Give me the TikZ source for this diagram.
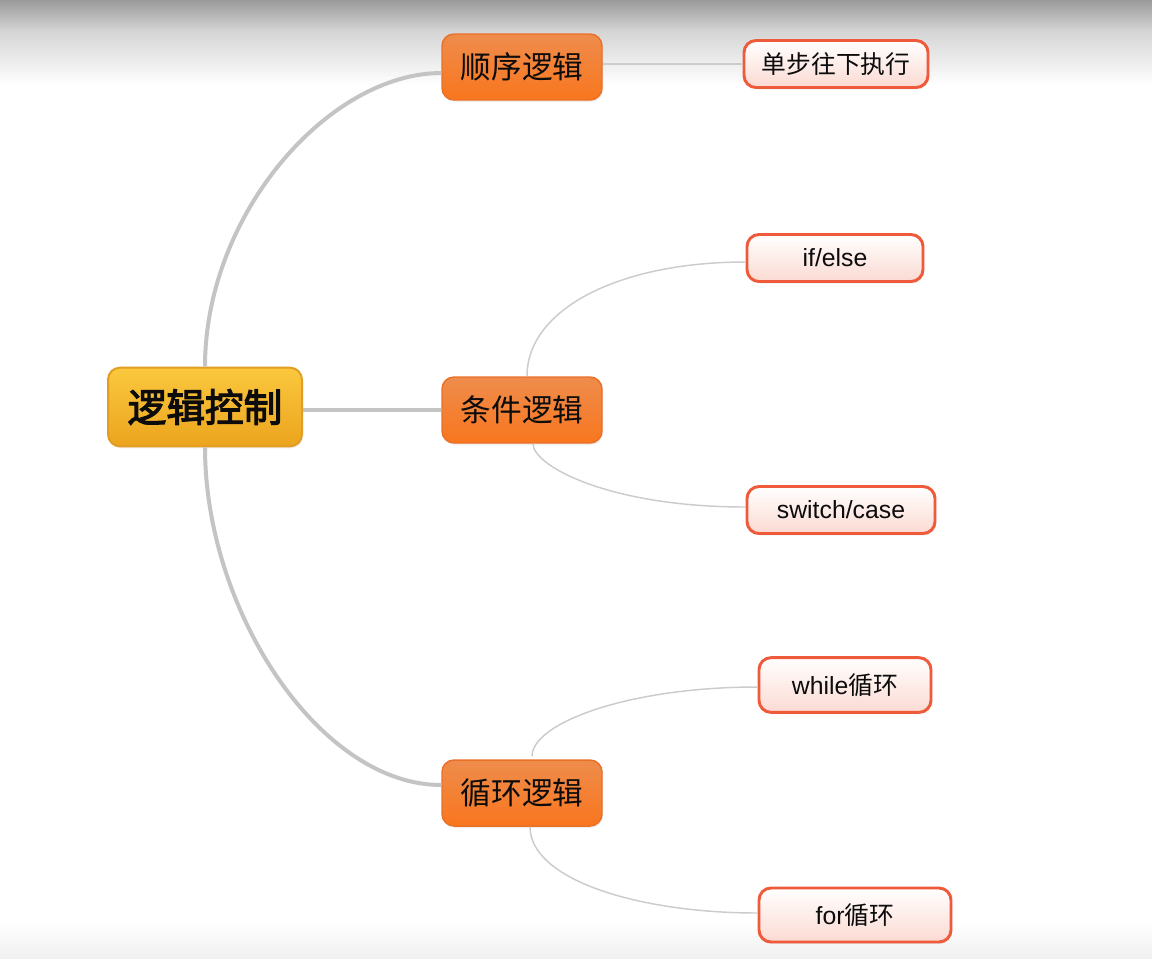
\documentclass[tikz,border=0pt]{standalone}
\usepackage{fontspec}
\setmainfont{Liberation Sans}
\newfontfamily\cjk{Noto Sans CJK SC}
\newfontfamily\cjkheavy[FakeBold=3]{Noto Sans CJK SC}
\usetikzlibrary{calc,shadows}

\definecolor{rootTop}{RGB}{250,200,62}
\definecolor{rootBot}{RGB}{236,164,30}
\definecolor{rootLine}{RGB}{226,158,34}
\definecolor{branchTop}{RGB}{238,140,76}
\definecolor{branchBot}{RGB}{249,118,30}
\definecolor{branchLine}{RGB}{234,112,40}
\definecolor{leafBot}{RGB}{251,218,210}
\definecolor{leafLine}{RGB}{238,90,58}
\definecolor{trunkGray}{RGB}{196,196,196}
\definecolor{twigGray}{RGB}{204,204,204}
\definecolor{inkText}{RGB}{12,12,12}
\definecolor{topGray}{RGB}{154,154,154}
\definecolor{midGray}{RGB}{212,212,212}
\definecolor{footGray}{RGB}{240,240,240}

\begin{document}
\begin{tikzpicture}[x=0.75pt,y=-0.75pt,
  softshadow/.style={drop shadow={opacity=0.12,shadow xshift=0.8pt,shadow yshift=-1.5pt}},
  rootbox/.style={draw=rootLine, line width=1.5pt, rounded corners=9pt,
    top color=rootTop, bottom color=rootBot, softshadow,
    minimum width=145.5pt, minimum height=59pt, inner sep=0pt,
    text=inkText, font=\cjkheavy\fontsize{29}{30}\selectfont},
  branchbox/.style={draw=branchLine, line width=1.1pt, rounded corners=9pt,
    top color=branchTop, bottom color=branchBot, softshadow,
    minimum width=120pt, minimum height=49.5pt, inner sep=0pt,
    text=inkText, font=\cjk\fontsize{23}{24}\selectfont},
  leafbox/.style={draw=leafLine, line width=2.2pt, rounded corners=9pt,
    top color=white, bottom color=leafBot, softshadow,
    minimum height=35.25pt, inner sep=0pt,
    text=inkText, font=\fontsize{18.6}{20}\selectfont},
  trunk/.style={draw=trunkGray, line width=3pt},
  twig/.style={draw=twigGray, line width=1.1pt}
]
\useasboundingbox (0,0) rectangle (1152,958);

% page backdrop: grey fade at the top, faint grey at the foot
\fill[white] (0,0) rectangle (1152,958);
\shade[top color=topGray, bottom color=midGray] (0,0) rectangle (1152,30.5);
\shade[top color=midGray, bottom color=white] (0,30) rectangle (1152,85);
\shade[top color=white, bottom color=footGray] (0,922) rectangle (1152,958);

% nodes
\node[rootbox]   (root) at (205,407) {逻辑控制};
\node[branchbox] (b1)   at (522,67)  {顺序逻辑};
\node[branchbox] (b2)   at (522,410) {条件逻辑};
\node[branchbox] (b3)   at (522,793) {循环逻辑};

\node[leafbox, minimum width=138pt] (l1) at (836,64)  {\cjk 单步往下执行};
\node[leafbox, minimum width=132pt] (l2) at (835,258) {if/else};
\node[leafbox, minimum width=141pt] (l3) at (841,510) {switch/case};
\node[leafbox, minimum width=129pt, minimum height=41pt] (l4) at (845,685) {while{\cjk 循环}};
\node[leafbox, minimum width=144pt, minimum height=40.5pt] (l5) at (855,915) {for{\cjk 循环}};

% connectors from the centre topic
\draw[trunk] (root.north) .. controls +(0,-153) and +(-112,0) .. ($(b1.west)+(0,6)$);
\draw[trunk] (root.east |- b2.west) -- (b2.west);
\draw[trunk] (root.south) .. controls +(0,163) and +(-122,0) .. ($(b3.west)+(0,-8)$);

% connectors to the sub topics
\draw[twig] (b1.east |- l1.west) -- (l1.west);
\draw[twig] ($(b2.north)+(5,0)$) .. controls +(0,-67) and +(-127,0) .. ($(l2.west)+(0,4)$);
\draw[twig] ($(b2.south)+(11,0)$) .. controls +(0,22) and +(-137,0) .. ($(l3.west)+(0,-3)$);
\draw[twig] ($(b3.north)+(10,-3)$) .. controls +(0,-33) and +(-130,0) .. ($(l4.west)+(0,2)$);
\draw[twig] ($(b3.south)+(8,0)$) .. controls +(0,53) and +(-119,0) .. ($(l5.west)+(0,-2)$);
\end{tikzpicture}
\end{document}
